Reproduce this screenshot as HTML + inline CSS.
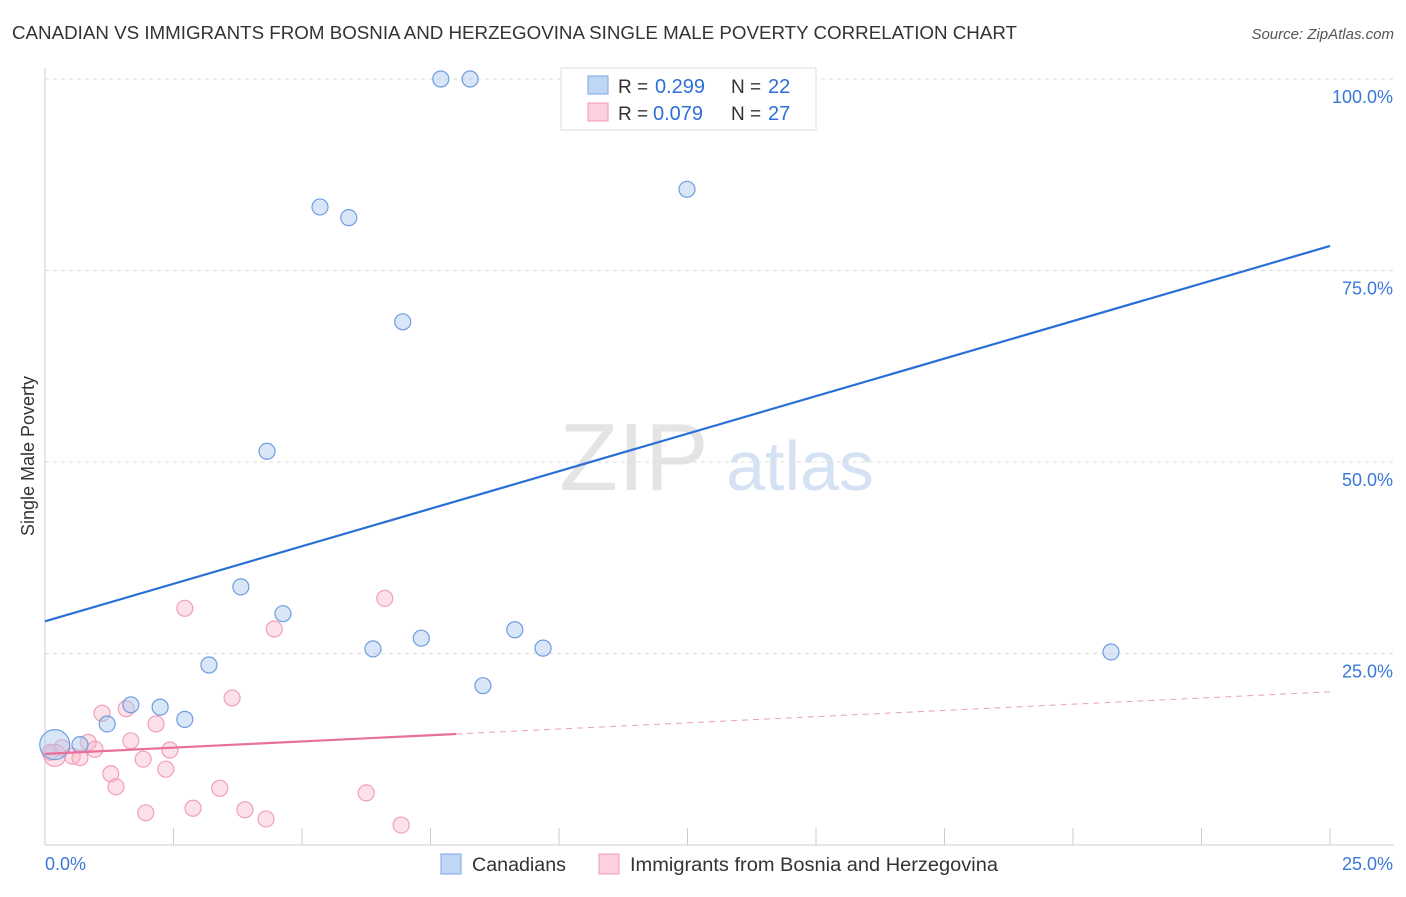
<!DOCTYPE html>
<html><head><meta charset="utf-8"><style>
body{margin:0;background:#fff;font-family:"Liberation Sans",sans-serif}
svg text{font-family:"Liberation Sans",sans-serif}
</style></head><body>
<svg id="c" width="1406" height="892">
<text x="12" y="39" font-size="18" fill="#333" textLength="1005" lengthAdjust="spacingAndGlyphs">CANADIAN VS IMMIGRANTS FROM BOSNIA AND HERZEGOVINA SINGLE MALE POVERTY CORRELATION CHART</text>
<text x="1394" y="39" font-size="15" fill="#555" font-style="italic" text-anchor="end">Source: ZipAtlas.com</text>
<text x="634" y="490" font-size="96" fill="#e4e4e4" font-family="Liberation Serif" text-anchor="middle">ZIP</text>
<text x="800" y="490" font-size="70" fill="#d4e2f4" text-anchor="middle">atlas</text>
<text x="34" y="456" font-size="18" fill="#333" text-anchor="middle" transform="rotate(-90 34 456)">Single Male Poverty</text>
<g id="grid"></g><g id="axes"></g><g id="marks"></g>
<g>
<rect x="561" y="68" width="255" height="62" fill="#fff" stroke="#ddd"/>
<rect x="588" y="76" width="20" height="18" fill="#c0d6f5" stroke="#7aa6e6"/>
<rect x="588" y="103" width="20" height="18" fill="#fcd0dc" stroke="#f09ab4"/>
<text x="618" y="93" font-size="19" fill="#333">R =</text><text x="655" y="93" font-size="20" fill="#2e6fd8">0.299</text>
<text x="731" y="93" font-size="19" fill="#333">N =</text><text x="768" y="93" font-size="20" fill="#2e6fd8">22</text>
<text x="618" y="120" font-size="19" fill="#333">R =</text><text x="653" y="120" font-size="20" fill="#2e6fd8">0.079</text>
<text x="731" y="120" font-size="19" fill="#333">N =</text><text x="768" y="120" font-size="20" fill="#2e6fd8">27</text>
</g>
<g>
<rect x="441" y="854" width="20" height="20" fill="#c0d6f5" stroke="#7aa6e6"/>
<text x="472" y="871" font-size="19" fill="#333" textLength="94" lengthAdjust="spacingAndGlyphs">Canadians</text>
<rect x="599" y="854" width="20" height="20" fill="#fcd0dc" stroke="#f09ab4"/>
<text x="630" y="871" font-size="19" fill="#333" textLength="368" lengthAdjust="spacingAndGlyphs">Immigrants from Bosnia and Herzegovina</text>
</g>
</svg>
<script>
const blueX=[7.70,8.27,5.35,5.91,12.49,6.96,4.32,3.81,4.63,6.38,7.32,9.14,9.69,20.74,8.52,3.19,1.67,2.24,2.72,1.21,0.68,0.19];
const blueY=[100,100,83.3,81.9,85.6,68.3,51.4,33.7,30.2,25.6,27.0,28.1,25.7,25.2,20.8,23.5,18.3,18.0,16.4,15.8,13.1,13.1];
const pinkX=[2.72,6.61,4.46,3.64,1.11,1.58,2.16,0.84,1.67,0.97,2.43,1.91,2.35,1.28,1.38,3.40,2.88,1.96,3.89,4.30,6.25,6.93,0.10,0.33,0.53,0.68,0.19];
const pinkY=[30.9,32.2,28.2,19.2,17.2,17.8,15.8,13.4,13.6,12.5,12.4,11.2,9.9,9.3,7.6,7.4,4.8,4.2,4.6,3.4,6.8,2.6,12.1,12.7,11.6,11.4,11.7];
const blueLine=[29.2,78.2];
const pinkLine=[11.9,20.0];
const pinkSolidEnd=8.0;
const yTicks=[25,50,75,100];
const yTickLabels=["25.0%","50.0%","75.0%","100.0%"];
const xTicks=[0,2.5,5,7.5,10,12.5,15,17.5,20,22.5,25];
const NS="http://www.w3.org/2000/svg";
const sx=v=>45+v*51.4, sy=v=>845-v*7.66;
function mk(t,a,p){const e=document.createElementNS(NS,t);for(const k in a)e.setAttribute(k,a[k]);p.appendChild(e);return e;}
const grid=document.getElementById('grid'),axes=document.getElementById('axes'),marks=document.getElementById('marks');
yTicks.forEach((v,i)=>{
 const l=mk('line',{x1:45,x2:1394,y1:sy(v),y2:sy(v),stroke:'#ddd','stroke-dasharray':'4,4'},grid);
 
 
 const t=mk('text',{x:1393,y:sy(v)+24,'font-size':18,fill:'#3a78d8','text-anchor':'end'},axes);
 t.textContent=yTickLabels[i];
 
 
});
mk('line',{x1:45,x2:45,y1:68,y2:845,stroke:'#ccc'},axes);
mk('line',{x1:45,x2:1394,y1:845,y2:845,stroke:'#ccc'},axes);
xTicks.forEach(v=>{const l=mk('line',{x1:sx(v),x2:sx(v),y1:828,y2:845,stroke:'#ccc'},axes);
 
 });
let t0=mk('text',{x:45,y:870,'font-size':18,fill:'#3a78d8'},axes);t0.textContent="0.0%";


let t1=mk('text',{x:1393,y:870,'font-size':18,fill:'#3a78d8','text-anchor':'end'},axes);t1.textContent="25.0%";


pinkX.forEach((x,i)=>{const c=mk('circle',{cx:sx(x),cy:sy(pinkY[i]),r:i==pinkX.length-1?11:8,fill:'rgba(248,180,200,0.4)',stroke:'#f0a0b8','stroke-width':1.2},marks);
 
 });
blueX.forEach((x,i)=>{const c=mk('circle',{cx:sx(x),cy:sy(blueY[i]),r:i==blueX.length-1?15:8,fill:'rgba(170,200,240,0.45)',stroke:'#6f9de0','stroke-width':1.2},marks);
 
 });
const bl=mk('line',{x1:sx(0),y1:sy(blueLine[0]),x2:sx(25),y2:sy(blueLine[1]),stroke:'#2a6fd6','stroke-width':2.2},marks);


const pm=pinkLine[0]+(pinkLine[1]-pinkLine[0])*pinkSolidEnd/25;
const pl=mk('line',{x1:sx(0),y1:sy(pinkLine[0]),x2:sx(pinkSolidEnd),y2:sy(pm),stroke:'#e8709a','stroke-width':2.2},marks);


const pd=mk('line',{x1:sx(pinkSolidEnd),y1:sy(pm),x2:sx(25),y2:sy(pinkLine[1]),stroke:'#e8a0b8','stroke-width':1,'stroke-dasharray':'6,5'},marks);


</script>
</body></html>
